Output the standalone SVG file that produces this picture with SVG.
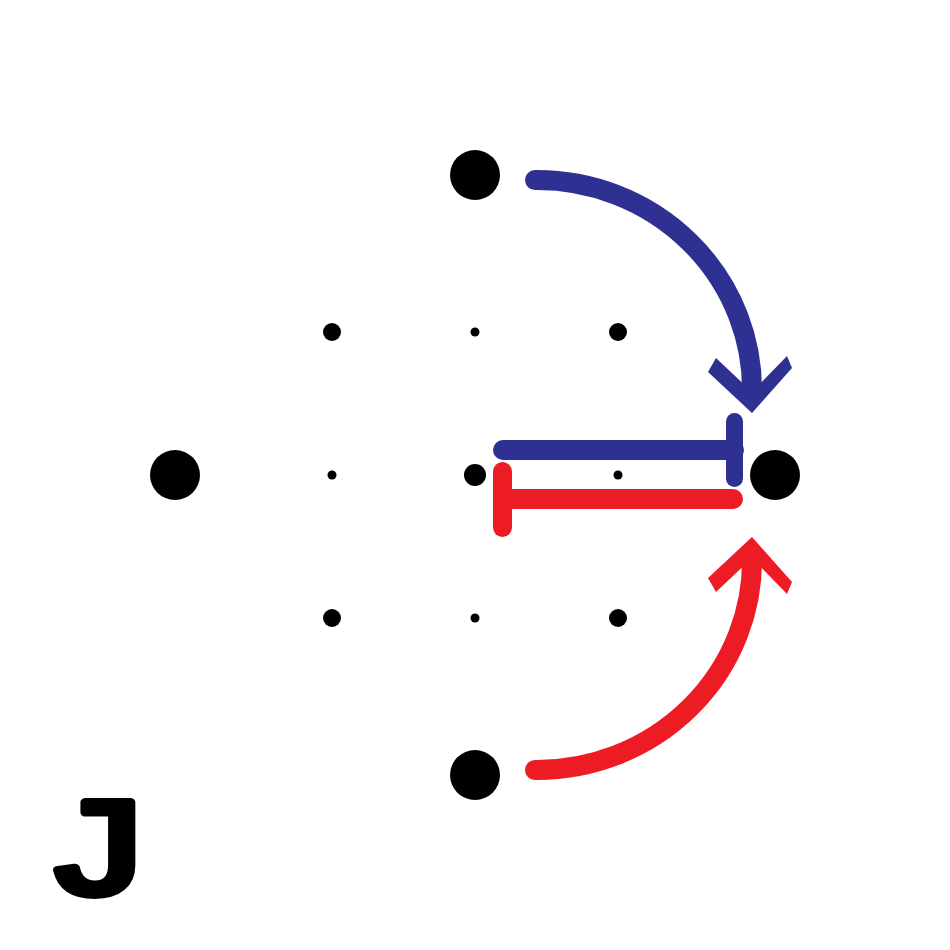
<svg xmlns="http://www.w3.org/2000/svg" width="950" height="950" viewBox="0 0 950 950">
<style>
.dot{fill:#000}
.blue{stroke:#2e3192;fill:none;stroke-linecap:round}
.red{stroke:#ed1c24;fill:none;stroke-linecap:round}
.label{font-family:"Liberation Mono",monospace;font-size:140px;fill:#000;stroke:#000;stroke-width:8;stroke-linejoin:round}
</style>
<rect width="950" height="950" fill="#fff"/>
<g id="n-top"><circle class="dot" cx="475" cy="175" r="25"/></g>
<g id="n-left"><circle class="dot" cx="175" cy="475" r="25"/></g>
<g id="n-right"><circle class="dot" cx="775" cy="475" r="25"/></g>
<g id="n-bottom"><circle class="dot" cx="475" cy="775" r="25"/></g>
<g id="n-center"><circle class="dot" cx="475" cy="475" r="11"/></g>
<g id="grid-dots">
<circle class="dot" cx="332" cy="332" r="9"/>
<circle class="dot" cx="618" cy="332" r="9"/>
<circle class="dot" cx="332" cy="618" r="9"/>
<circle class="dot" cx="618" cy="618" r="9"/>
<circle class="dot" cx="475" cy="332" r="4.5"/>
<circle class="dot" cx="332" cy="475" r="4.5"/>
<circle class="dot" cx="618" cy="475" r="4.5"/>
<circle class="dot" cx="475" cy="618" r="4.5"/>
</g>
<g id="connectors">
<path class="blue" stroke-width="20" d="M535,180 A215,210 0 0 1 752,395"/>
<polygon fill="#2e3192" points="752,413 708,372 716,358 752,392 787,356 792,368"/>
<path class="blue" stroke-width="20" d="M503,450 H734"/>
<path class="blue" stroke-width="17" d="M734.5,421.5 V478.5"/>
<path class="red" stroke-width="20" d="M535,770 A215,210 0 0 0 752,555"/>
<polygon fill="#ed1c24" points="752,537 708,578 716,592 752,558 787,594 792,582"/>
<path class="red" stroke-width="20" d="M503,499 H733"/>
<path class="red" stroke-width="19" d="M502.5,471.5 V527.5"/>
</g>
<g transform="translate(97,894) scale(1.3,1)">
<text class="label" x="0" y="0" text-anchor="middle">J</text>
</g>
</svg>
